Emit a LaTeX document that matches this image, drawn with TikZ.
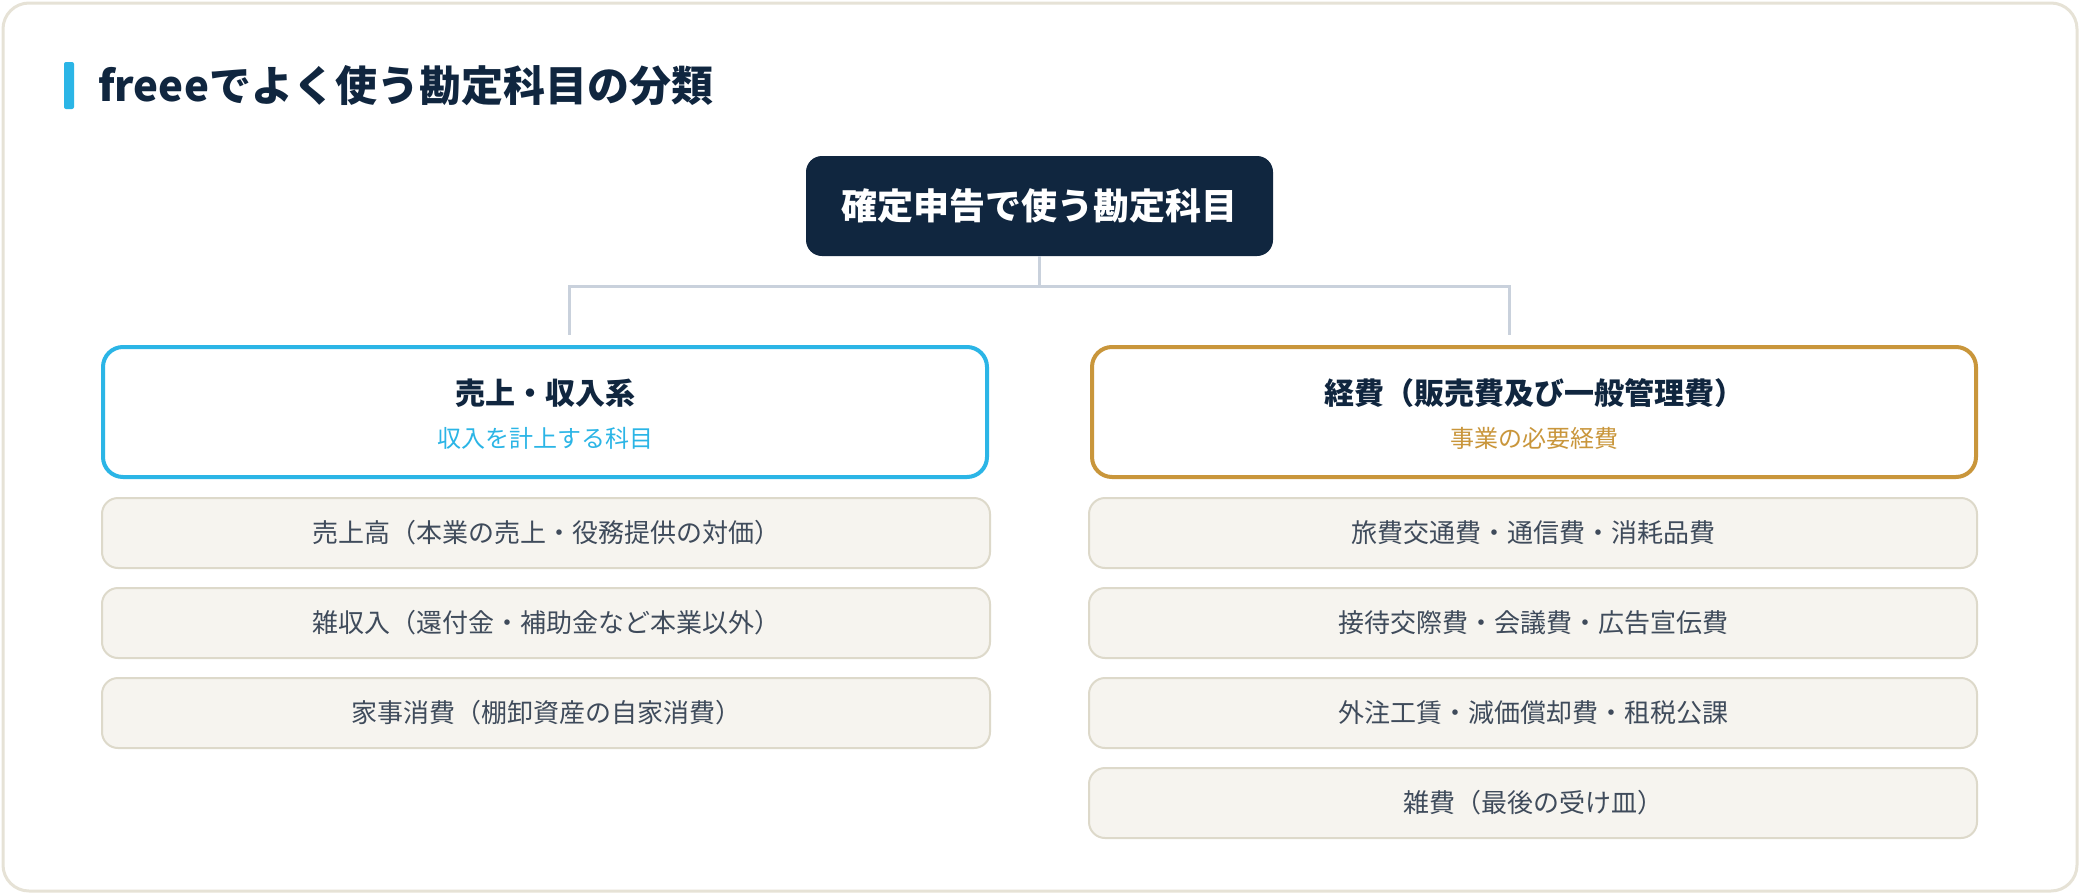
\documentclass[tikz,border=0pt]{standalone}
\usepackage{fontspec}
\setmainfont{Noto Sans CJK JP}
\usepackage{tikz}
\definecolor{navy}{HTML}{10263F}
\definecolor{skyblue}{HTML}{2BB5E6}
\definecolor{ochre}{HTML}{C9963B}
\definecolor{linkgray}{HTML}{C9D1DC}
\definecolor{paper}{HTML}{F6F4EF}
\definecolor{paperedge}{HTML}{DDD9CA}
\definecolor{frameedge}{HTML}{E6E2D6}
\definecolor{itemtext}{HTML}{3F4B5B}

\begin{document}
\begin{tikzpicture}[x=1pt,y=-1pt]
  \tikzset{RootStyle/.style = {
    shape           = rectangle,
    rounded corners = 16pt,
    fill            = navy,
    text            = white,
    font            = \fontsize{36}{40}\selectfont\bfseries,
    minimum width   = 467pt,
    minimum height  = 100pt,
    inner sep       = 0pt
    }
  }
  \tikzset{GroupStyle/.style = {
    shape           = rectangle,
    rounded corners = 20pt,
    draw            = #1,
    fill            = white,
    line width      = 4pt,
    minimum width   = 884pt,
    minimum height  = 130pt,
    inner sep       = 0pt
    }
  }
  \tikzset{GroupTitleStyle/.style = {
    text            = navy,
    font            = \fontsize{30}{34}\selectfont\bfseries,
    inner sep       = 0pt
    }
  }
  \tikzset{GroupNoteStyle/.style = {
    text            = #1,
    font            = \fontsize{24}{28}\selectfont,
    inner sep       = 0pt
    }
  }
  \tikzset{ItemStyle/.style = {
    shape           = rectangle,
    rounded corners = 16pt,
    draw            = paperedge,
    fill            = paper,
    line width      = 2pt,
    text            = itemtext,
    font            = \fontsize{26}{30}\selectfont,
    minimum width   = 888pt,
    minimum height  = 70pt,
    inner sep       = 0pt
    }
  }
  \tikzset{LinkStyle/.style = {
    draw            = linkgray,
    line width      = 3pt
    }
  }

  \useasboundingbox (0,0) rectangle (2080,894);
  \draw[frameedge, line width=3pt, fill=white, rounded corners=26pt] (3,3) rectangle (2077,891);

  \fill[skyblue, rounded corners=2pt] (64,62) rectangle (74,109);
  \node[anchor=west, text=navy, inner sep=0pt, font=\fontsize{42}{46}\selectfont\bfseries](Heading) at (98, 86) {freeeでよく使う勘定科目の分類};

  \node[RootStyle](Root) at (1039.5, 206) {確定申告で使う勘定科目};

  \node[GroupStyle=skyblue](Income) at (545, 412) {};
  \node[GroupStyle=ochre](Expense) at (1534, 412) {};
  \node[GroupTitleStyle](IncomeT) at (545, 393) {売上・収入系};
  \node[GroupNoteStyle=skyblue](IncomeN) at (545, 438) {収入を計上する科目};
  \node[GroupTitleStyle](ExpenseT) at (1534, 393) {経費（販売費及び一般管理費）};
  \node[GroupNoteStyle=ochre](ExpenseN) at (1534, 438) {事業の必要経費};

  \coordinate (Fork) at (1039.5, 286);
  \coordinate (IncomeIn) at (569, 335);
  \coordinate (ExpenseIn) at (1509, 335);
  \draw[LinkStyle](Root.south) to (Fork);
  \draw[LinkStyle](Fork) -| (IncomeIn);
  \draw[LinkStyle](Fork) -| (ExpenseIn);

  \node[ItemStyle](Income1) at (546, 533) {売上高（本業の売上・役務提供の対価）};
  \node[ItemStyle](Income2) at (546, 623) {雑収入（還付金・補助金など本業以外）};
  \node[ItemStyle](Income3) at (546, 713) {家事消費（棚卸資産の自家消費）};
  \node[ItemStyle](Expense1) at (1533, 533) {旅費交通費・通信費・消耗品費};
  \node[ItemStyle](Expense2) at (1533, 623) {接待交際費・会議費・広告宣伝費};
  \node[ItemStyle](Expense3) at (1533, 713) {外注工賃・減価償却費・租税公課};
  \node[ItemStyle](Expense4) at (1533, 803) {雑費（最後の受け皿）};

  \end{tikzpicture}
\end{document}
